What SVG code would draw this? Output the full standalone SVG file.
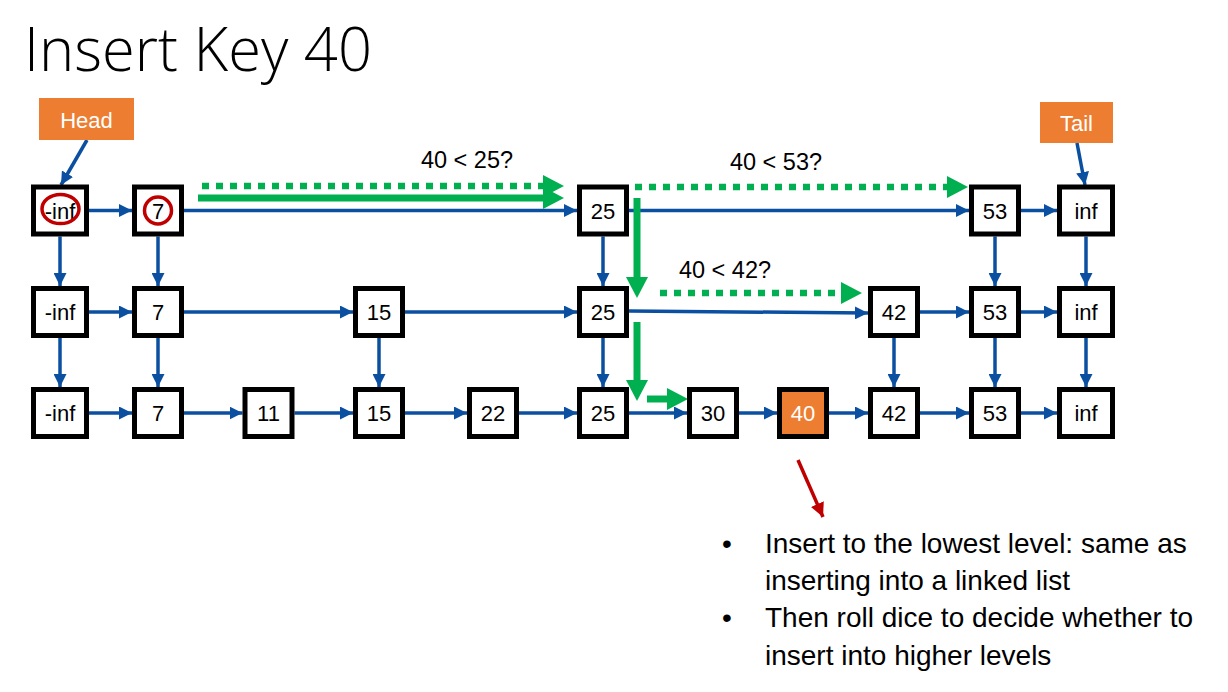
<svg xmlns="http://www.w3.org/2000/svg" width="1228" height="692" viewBox="0 0 1228 692">
<defs>
<style>
.box{fill:#fff;stroke:#000;stroke-width:5}
.hot{fill:#ED7D31;stroke:#000;stroke-width:5}
.lbl{fill:#ED7D31}
.t{font-family:"Liberation Sans",Arial,sans-serif;font-size:22px;fill:#000;text-anchor:middle}
.tw{font-family:"Liberation Sans",Arial,sans-serif;font-size:22px;fill:#fff;text-anchor:middle}
.q{font-family:"Liberation Sans",Arial,sans-serif;font-size:23.5px;fill:#000;text-anchor:middle}
.b{font-family:"Liberation Sans",Arial,sans-serif;font-size:28px;fill:#000}
.e{stroke:#0B4FA0;stroke-width:3.5;fill:none;marker-end:url(#ab)}
.g{stroke:#00B050;stroke-width:7;fill:none;marker-end:url(#ag)}
.gd{stroke:#00B050;stroke-width:6.5;stroke-dasharray:7 7;fill:none;marker-end:url(#ag)}
.red{stroke:#C00000;stroke-width:3.5;fill:none}
</style>
<marker id="ab" markerUnits="userSpaceOnUse" markerWidth="13" markerHeight="13" refX="13" refY="6.5" orient="auto">
<path d="M0,0 L13,6.5 L0,13 z" fill="#0B4FA0"/>
</marker>
<marker id="ag" markerUnits="userSpaceOnUse" markerWidth="22" markerHeight="22" refX="0" refY="11" orient="auto">
<path d="M0,0 L21,11 L0,22 z" fill="#00B050"/>
</marker>
<marker id="ar" markerUnits="userSpaceOnUse" markerWidth="14" markerHeight="14" refX="14" refY="7" orient="auto">
<path d="M0,0 L14,7 L0,14 z" fill="#C00000"/>
</marker>
</defs>
<rect width="1228" height="692" fill="#fff"/>

<text x="24" y="71" font-family="'Open Sans','Liberation Sans',sans-serif" font-weight="300" font-size="60" textLength="348" lengthAdjust="spacingAndGlyphs" fill="#000">Insert Key 40</text>

<g id="connectors">
<line class="e" x1="87" y1="140" x2="61" y2="185"/>
<line class="e" x1="1077" y1="143" x2="1085" y2="185"/>
<line class="e" x1="89" y1="210.5" x2="132" y2="210.5"/>
<line class="e" x1="184" y1="210.5" x2="577" y2="210.5"/>
<line class="e" x1="629" y1="210.5" x2="969" y2="210.5"/>
<line class="e" x1="1021" y1="210.5" x2="1057" y2="210.5"/>
<line class="e" x1="89" y1="312" x2="132" y2="312"/>
<line class="e" x1="184" y1="312" x2="353" y2="312"/>
<line class="e" x1="405" y1="312" x2="577" y2="312"/>
<line class="e" x1="629" y1="311" x2="868" y2="313"/>
<line class="e" x1="920" y1="312" x2="969" y2="312"/>
<line class="e" x1="1021" y1="312" x2="1057" y2="312"/>
<line class="e" x1="89" y1="413" x2="132" y2="413"/>
<line class="e" x1="184" y1="413" x2="242.5" y2="413"/>
<line class="e" x1="294.5" y1="413" x2="353" y2="413"/>
<line class="e" x1="405" y1="413" x2="467" y2="413"/>
<line class="e" x1="519" y1="413" x2="577" y2="413"/>
<line class="e" x1="629" y1="413" x2="687" y2="413"/>
<line class="e" x1="739" y1="413" x2="777" y2="413"/>
<line class="e" x1="829" y1="413" x2="868" y2="413"/>
<line class="e" x1="920" y1="413" x2="969" y2="413"/>
<line class="e" x1="1021" y1="413" x2="1057" y2="413"/>
<line class="e" x1="60" y1="236.5" x2="60" y2="286"/>
<line class="e" x1="60" y1="338" x2="60" y2="387"/>
<line class="e" x1="158" y1="236.5" x2="158" y2="286"/>
<line class="e" x1="158" y1="338" x2="158" y2="387"/>
<line class="e" x1="379" y1="338" x2="379" y2="387"/>
<line class="e" x1="603" y1="236.5" x2="603" y2="286"/>
<line class="e" x1="603" y1="338" x2="603" y2="387"/>
<line class="e" x1="894" y1="338" x2="894" y2="387"/>
<line class="e" x1="995" y1="236.5" x2="995" y2="286"/>
<line class="e" x1="995" y1="338" x2="995" y2="387"/>
<line class="e" x1="1086" y1="236.5" x2="1086" y2="286"/>
<line class="e" x1="1086" y1="338" x2="1086" y2="387"/>
<line class="gd" x1="202" y1="186" x2="543" y2="186"/>
<line class="g" x1="198" y1="198" x2="543" y2="198"/>
<line class="gd" x1="635" y1="187" x2="947" y2="187"/>
<line class="g" x1="637" y1="198" x2="637" y2="277"/>
<line class="gd" x1="660" y1="293" x2="841" y2="293"/>
<line class="g" x1="637" y1="322" x2="637" y2="380"/>
<line class="g" x1="647" y1="399" x2="667" y2="399"/>
<line class="red" x1="798" y1="460" x2="823" y2="517" marker-end="url(#ar)"/>
</g>

<g id="head"><rect class="lbl" x="39" y="98" width="95" height="42"/><text class="tw" x="86.5" y="128">Head</text></g>
<g id="tail"><rect class="lbl" x="1040" y="102" width="73" height="41"/><text class="tw" x="1076.5" y="131">Tail</text></g>

<g id="ninf1"><rect class="box" x="33.5" y="187" width="53" height="47"/><text class="t" x="60" y="218.5">-inf</text><ellipse cx="60.5" cy="209" rx="18.5" ry="14.5" fill="none" stroke="#C00000" stroke-width="3.5"/></g>
<g id="n7_1"><rect class="box" x="134.5" y="187" width="47" height="47"/><text class="t" x="158" y="218.5">7</text><circle cx="158" cy="210.5" r="13.5" fill="none" stroke="#C00000" stroke-width="3.5"/></g>
<g id="n25_1"><rect class="box" x="579.5" y="187" width="47" height="47"/><text class="t" x="603" y="218.5">25</text></g>
<g id="n53_1"><rect class="box" x="971.5" y="187" width="47" height="47"/><text class="t" x="995" y="218.5">53</text></g>
<g id="inf1"><rect class="box" x="1059.5" y="187" width="53" height="47"/><text class="t" x="1086" y="218.5">inf</text></g>

<g id="ninf2"><rect class="box" x="33.5" y="288.5" width="53" height="47"/><text class="t" x="60" y="320">-inf</text></g>
<g id="n7_2"><rect class="box" x="134.5" y="288.5" width="47" height="47"/><text class="t" x="158" y="320">7</text></g>
<g id="n15_2"><rect class="box" x="355.5" y="288.5" width="47" height="47"/><text class="t" x="379" y="320">15</text></g>
<g id="n25_2"><rect class="box" x="579.5" y="288.5" width="47" height="47"/><text class="t" x="603" y="320">25</text></g>
<g id="n42_2"><rect class="box" x="870.5" y="288.5" width="47" height="47"/><text class="t" x="894" y="320">42</text></g>
<g id="n53_2"><rect class="box" x="971.5" y="288.5" width="47" height="47"/><text class="t" x="995" y="320">53</text></g>
<g id="inf2"><rect class="box" x="1059.5" y="288.5" width="53" height="47"/><text class="t" x="1086" y="320">inf</text></g>

<g id="ninf3"><rect class="box" x="33.5" y="389.5" width="53" height="47"/><text class="t" x="60" y="421">-inf</text></g>
<g id="n7_3"><rect class="box" x="134.5" y="389.5" width="47" height="47"/><text class="t" x="158" y="421">7</text></g>
<g id="n11"><rect class="box" x="245" y="389.5" width="47" height="47"/><text class="t" x="268.5" y="421">11</text></g>
<g id="n15_3"><rect class="box" x="355.5" y="389.5" width="47" height="47"/><text class="t" x="379" y="421">15</text></g>
<g id="n22"><rect class="box" x="469.5" y="389.5" width="47" height="47"/><text class="t" x="493" y="421">22</text></g>
<g id="n25_3"><rect class="box" x="579.5" y="389.5" width="47" height="47"/><text class="t" x="603" y="421">25</text></g>
<g id="n30"><rect class="box" x="689.5" y="389.5" width="47" height="47"/><text class="t" x="713" y="421">30</text></g>
<g id="n40"><rect class="hot" x="779.5" y="389.5" width="47" height="47"/><text class="tw" x="803" y="421">40</text></g>
<g id="n42_3"><rect class="box" x="870.5" y="389.5" width="47" height="47"/><text class="t" x="894" y="421">42</text></g>
<g id="n53_3"><rect class="box" x="971.5" y="389.5" width="47" height="47"/><text class="t" x="995" y="421">53</text></g>
<g id="inf3"><rect class="box" x="1059.5" y="389.5" width="53" height="47"/><text class="t" x="1086" y="421">inf</text></g>

<g id="labels">
<text class="q" x="467" y="168">40 &lt; 25?</text>
<text class="q" x="776" y="170">40 &lt; 53?</text>
<text class="q" x="725" y="278">40 &lt; 42?</text>
</g>

<g id="notes">
<text class="b" x="722" y="553">•</text>
<text class="b" x="765" y="553">Insert to the lowest level: same as</text>
<text class="b" x="765" y="590">inserting into a linked list</text>
<text class="b" x="722" y="627">•</text>
<text class="b" x="765" y="627">Then roll dice to decide whether to</text>
<text class="b" x="765" y="665">insert into higher levels</text>
</g>
</svg>
